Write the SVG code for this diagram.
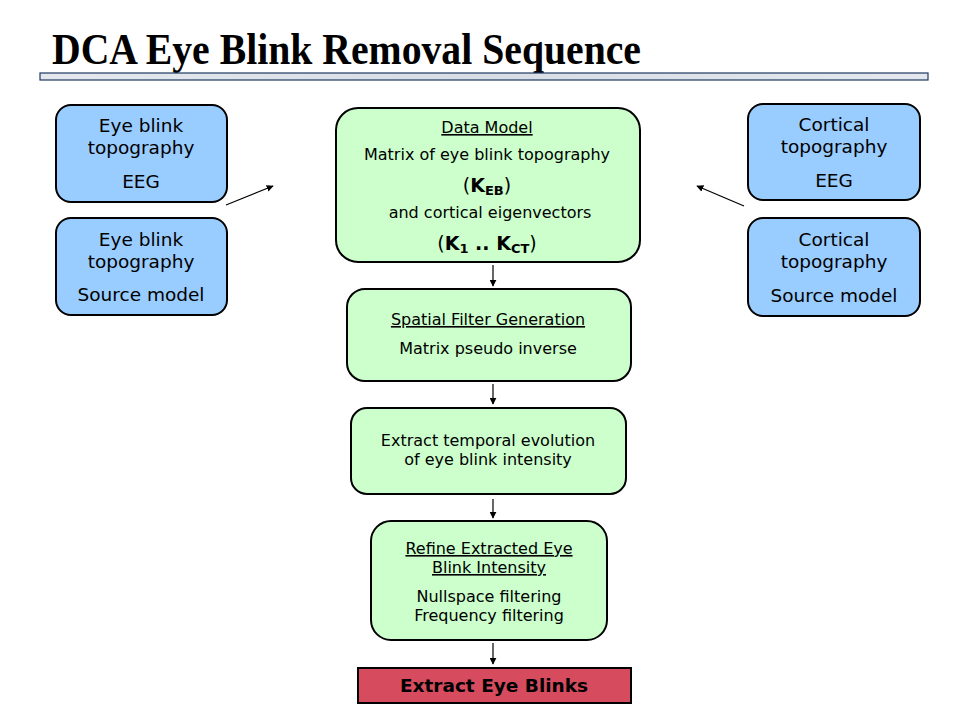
<svg xmlns="http://www.w3.org/2000/svg" width="960" height="720" viewBox="0 0 960 720">
<defs>
<marker id="ah" viewBox="0 0 10 10" refX="9" refY="5" markerWidth="7" markerHeight="7" markerUnits="userSpaceOnUse" orient="auto"><path d="M0,0 L10,5 L0,10 z" fill="#000"/></marker>
<linearGradient id="bar" x1="0" y1="0" x2="1" y2="0">
<stop offset="0" stop-color="#e4e8ee"/><stop offset="0.5" stop-color="#d8dde6"/><stop offset="1" stop-color="#e4e8ee"/>
</linearGradient>
</defs>
<style>
.blue{fill:#99ccff;stroke:#000;stroke-width:2}
.green{fill:#ccffcc;stroke:#000;stroke-width:2}
.t{font-family:"DejaVu Sans",Verdana,sans-serif;fill:#000;text-anchor:middle}
.s{font-size:18.5px}
.m{font-size:16px}
.u{text-decoration:underline}
.b{font-weight:bold}
.c{stroke:#000;stroke-width:1.2;fill:none;marker-end:url(#ah)}
</style>
<rect width="960" height="720" fill="#fff"/>
<text x="52" y="64" font-family="Liberation Serif,Times New Roman,serif" font-weight="bold" font-size="44" textLength="589" lengthAdjust="spacingAndGlyphs">DCA Eye Blink Removal Sequence</text>
<rect x="40" y="73" width="888" height="7" fill="url(#bar)" stroke="#1f3a5f" stroke-width="1.2"/>

<g id="eb-eeg">
<rect class="blue" x="56" y="105" width="171" height="97" rx="15"/>
<text class="t s" x="141" y="132">Eye blink</text>
<text class="t s" x="141" y="154">topography</text>
<text class="t s" x="141" y="188">EEG</text>
</g>
<g id="eb-src">
<rect class="blue" x="56" y="218" width="171" height="97" rx="15"/>
<text class="t s" x="141" y="246">Eye blink</text>
<text class="t s" x="141" y="268">topography</text>
<text class="t s" x="141" y="301">Source model</text>
</g>
<g id="ct-eeg">
<rect class="blue" x="748" y="104" width="172" height="96" rx="15"/>
<text class="t s" x="834" y="131">Cortical</text>
<text class="t s" x="834" y="153">topography</text>
<text class="t s" x="834" y="187">EEG</text>
</g>
<g id="ct-src">
<rect class="blue" x="748" y="218" width="172" height="98" rx="15"/>
<text class="t s" x="834" y="246">Cortical</text>
<text class="t s" x="834" y="268">topography</text>
<text class="t s" x="834" y="302">Source model</text>
</g>

<g id="data-model">
<rect class="green" x="336" y="108" width="304" height="154" rx="22"/>
<text class="t m u" x="487" y="133">Data Model</text>
<text class="t m" x="487" y="160">Matrix of eye blink topography</text>
<text class="t" x="487" y="192" font-size="19"><tspan>(</tspan><tspan class="b">K</tspan><tspan class="b" font-size="13" dy="3">EB</tspan><tspan dy="-3">)</tspan></text>
<text class="t m" x="490" y="218">and cortical eigenvectors</text>
<text class="t" x="487" y="250" font-size="19"><tspan>(</tspan><tspan class="b">K</tspan><tspan class="b" font-size="13" dy="3">1</tspan><tspan class="b" dy="-3"> .. K</tspan><tspan class="b" font-size="13" dy="3">CT</tspan><tspan dy="-3">)</tspan></text>
</g>
<g id="spatial">
<rect class="green" x="347" y="289" width="284" height="92" rx="18"/>
<text class="t m u" x="488" y="325">Spatial Filter Generation</text>
<text class="t m" x="488" y="354">Matrix pseudo inverse</text>
</g>
<g id="temporal">
<rect class="green" x="351" y="408" width="275" height="86" rx="16"/>
<text class="t m" x="488" y="446">Extract temporal evolution</text>
<text class="t m" x="488" y="465">of eye blink intensity</text>
</g>
<g id="refine">
<rect class="green" x="371" y="521" width="236" height="119" rx="20"/>
<text class="t m u" x="489" y="554">Refine Extracted Eye</text>
<text class="t m u" x="489" y="573">Blink Intensity</text>
<text class="t m" x="489" y="602">Nullspace filtering</text>
<text class="t m" x="489" y="621">Frequency filtering</text>
</g>
<g id="extract">
<rect x="358" y="668" width="273" height="35" fill="#d64b5e" stroke="#000" stroke-width="2"/>
<text class="t b" x="494" y="692" font-size="18.5">Extract Eye Blinks</text>
</g>

<g id="connectors">
<line class="c" x1="226" y1="205" x2="273" y2="186"/>
<line class="c" x1="744" y1="206" x2="697" y2="186"/>
<line class="c" x1="493" y1="265" x2="493" y2="286"/>
<line class="c" x1="493" y1="384" x2="493" y2="404"/>
<line class="c" x1="493" y1="499" x2="493" y2="518"/>
<line class="c" x1="493" y1="643" x2="493" y2="664"/>
</g>
</svg>
